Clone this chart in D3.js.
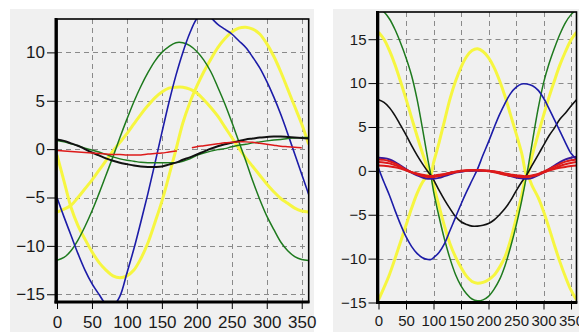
<!DOCTYPE html>
<html><head><meta charset="utf-8">
<script src="https://cdn.jsdelivr.net/npm/d3@7/dist/d3.min.js"></script>
<style>html,body{margin:0;padding:0;background:#fff;} svg{display:block;}</style>
</head><body>
<svg id="c" width="579" height="332"></svg>
<script>
// ---------- data: left chart ----------
const xsL = [0,10,20,30,40,50,60,70,80,90,100,110,120,130,140,150,160,170,180,190,200,210,220,230,240,250,260,270,280,290,300,310,320,330,340,350,360];
const blueL   = [-5.0,-7.0,-8.9,-10.8,-12.5,-13.9,-15.0,-16.0,-16.2,-15.2,-12.8,-10.3,-7.5,-4.6,-1.5,1.7,4.8,7.6,10.0,12.0,13.5,14.2,13.6,12.9,12.4,11.9,11.2,10.5,9.5,8.4,7.0,5.4,3.6,1.6,-0.5,-2.6,-4.7];
const greenL  = [-11.5,-11.2,-10.5,-9.4,-8.0,-6.4,-4.6,-2.7,-0.8,1.2,3.1,4.9,6.5,7.9,9.1,10.0,10.6,11.0,11.0,10.7,10.1,9.2,8.0,6.4,4.7,2.8,0.8,-1.2,-3.3,-5.2,-6.9,-8.3,-9.6,-10.5,-11.1,-11.4,-11.5];
const yellowAL= [-0.6,-3.3,-6.0,-7.9,-9.3,-10.6,-11.7,-12.5,-13.1,-13.3,-13.1,-12.5,-11.3,-9.7,-7.6,-5.4,-2.8,-0.1,2.7,4.8,6.5,8.0,9.3,10.5,11.4,12.1,12.5,12.6,12.4,11.9,10.9,9.6,8.0,6.2,4.4,2.6,0.5];
const yellowBL= [-6.5,-6.2,-5.8,-5.0,-4.1,-3.2,-2.2,-1.2,-0.2,0.7,1.6,2.6,3.6,4.5,5.3,5.9,6.3,6.4,6.4,6.2,5.8,5.1,4.3,3.4,2.3,1.2,0.1,-0.9,-1.8,-2.7,-3.6,-4.4,-5.1,-5.6,-6.1,-6.4,-6.5];
const blackL  = [1.0,0.85,0.6,0.35,0.0,-0.35,-0.65,-0.95,-1.2,-1.4,-1.55,-1.7,-1.8,-1.85,-1.85,-1.8,-1.6,-1.4,-1.1,-0.85,-0.55,-0.25,0.05,0.3,0.5,0.65,0.85,1.0,1.1,1.2,1.25,1.3,1.3,1.25,1.2,1.15,1.1];
const green2L = [0.9,0.75,0.55,0.35,0.1,-0.1,-0.3,-0.55,-0.8,-1.0,-1.15,-1.25,-1.35,-1.4,-1.4,-1.4,-1.4,-1.4,-1.25,-1.0,-0.65,-0.4,-0.2,-0.05,0.05,0.25,0.4,0.5,0.65,0.75,0.85,0.95,1.0,1.1,1.15,1.2,1.2];
const redL    = [-0.15,-0.2,-0.25,-0.3,-0.35,-0.4,-0.45,-0.5,-0.55,-0.55,-0.6,-0.6,-0.6,-0.5,-0.45,-0.4,-0.3,-0.2,-0.1,0.1,0.25,0.35,0.45,0.55,0.65,0.7,0.75,0.75,0.7,0.6,0.5,0.4,0.3,0.25,0.2,0.15];
const xTicks = [0,50,100,150,200,250,300,350];
const yTicksL = [10,5,0,-5,-10,-15];

// ---------- data: right chart ----------
const xsR = [0,10,20,30,40,50,60,70,80,90,95,100,110,120,130,140,150,160,170,180,190,200,210,220,230,240,250,260,270,280,290,300,310,320,330,340,350,360];
const greenR  = [18.5,18.1,17.3,16.1,14.6,12.9,10.9,8.2,4.8,1.2,-0.4,-2.3,-5.2,-7.8,-10.0,-11.8,-13.1,-14.0,-14.6,-14.8,-14.7,-14.3,-13.5,-12.4,-10.8,-8.7,-6.3,-3.5,-0.3,3.4,7.0,10.0,12.2,14.0,15.6,16.9,17.8,18.4];
const yellowAR= [15.8,15.0,13.7,12.1,10.2,8.2,6.1,4.0,2.0,0.2,-0.5,0.9,3.2,5.7,8.2,10.2,11.8,13.0,13.7,13.9,13.6,12.9,11.8,10.3,8.5,6.4,4.3,2.1,-0.5,1.9,4.1,6.3,8.4,10.3,12.1,13.6,14.9,15.8];
const yellowBR= [-14.7,-13.3,-11.8,-10.0,-8.1,-6.2,-4.3,-2.6,-1.3,-0.5,-0.4,-1.6,-4.0,-6.3,-8.3,-9.8,-11.0,-12.0,-12.6,-12.8,-12.7,-12.4,-11.9,-11.0,-9.8,-7.9,-5.5,-2.9,-0.5,-1.8,-3.0,-4.6,-6.5,-8.5,-10.4,-12.1,-13.6,-14.7];
const blackR  = [8.1,7.8,7.2,6.3,5.2,4.1,2.9,1.8,0.8,-0.1,-0.5,-1.0,-2.2,-3.3,-4.3,-5.2,-5.8,-6.1,-6.3,-6.3,-6.2,-6.0,-5.6,-5.0,-4.3,-3.4,-2.3,-1.3,-0.4,0.7,1.8,2.9,4.0,4.9,5.9,6.6,7.4,8.1];
const blueR   = [0.3,-1.3,-2.8,-4.5,-6.1,-7.5,-8.6,-9.4,-9.9,-10.1,-10.1,-9.9,-9.3,-8.3,-6.8,-5.3,-3.8,-2.4,-1.1,0.2,1.8,3.3,4.9,6.4,7.7,8.8,9.5,9.9,9.9,9.7,9.2,8.3,7.1,5.8,4.5,3.2,2.0,1.3];
const blue2R  = [1.5,1.45,1.3,1.0,0.6,0.2,-0.2,-0.5,-0.75,-0.9,-0.9,-0.9,-0.8,-0.6,-0.4,-0.2,-0.1,0.0,0.0,0.0,0.0,0.0,-0.1,-0.2,-0.4,-0.6,-0.75,-0.85,-0.9,-0.8,-0.5,-0.2,0.2,0.6,1.0,1.3,1.5,1.6];
const red1R   = [1.3,1.25,1.1,0.85,0.5,0.15,-0.15,-0.4,-0.6,-0.7,-0.7,-0.7,-0.6,-0.45,-0.3,-0.15,-0.05,0.05,0.1,0.1,0.05,-0.05,-0.15,-0.3,-0.45,-0.55,-0.65,-0.7,-0.7,-0.6,-0.4,-0.1,0.2,0.5,0.8,1.05,1.2,1.3];
const red2R   = [1.0,0.95,0.85,0.65,0.4,0.1,-0.15,-0.35,-0.55,-0.65,-0.7,-0.65,-0.55,-0.4,-0.25,-0.1,0.0,0.05,0.1,0.1,0.05,0.0,-0.1,-0.25,-0.4,-0.5,-0.6,-0.65,-0.7,-0.6,-0.45,-0.2,0.05,0.3,0.55,0.75,0.9,1.0];
const red3R   = [0.6,0.58,0.5,0.4,0.25,0.05,-0.15,-0.3,-0.45,-0.55,-0.6,-0.55,-0.45,-0.35,-0.2,-0.1,0.0,0.05,0.05,0.05,0.05,0.0,-0.05,-0.15,-0.3,-0.4,-0.5,-0.55,-0.6,-0.5,-0.35,-0.15,0.05,0.2,0.35,0.45,0.55,0.6];
const yTicksR = [15,10,5,0,-5,-10,-15];

const C = {blue:"#1c1ca8", green:"#1e7a1e", yellow:"#f6f640", black:"#111", red:"#dd1a1a"};

const svg = d3.select("#c");
const FONT = "'Liberation Sans', Arial, sans-serif";

function chart(o){
  const g = svg.append("g");
  g.append("rect").attr("x",o.panel[0]).attr("y",o.panel[1]).attr("width",o.panel[2]).attr("height",o.panel[3]).attr("fill","#f0f0f0");
  const x = d3.scaleLinear().domain([0,360]).range(o.xr);
  const y = d3.scaleLinear().domain(o.yd).range(o.yr);
  const [x0,x1] = o.xr, [y1,y0] = o.yr;
  const id = "clip"+o.name;
  svg.append("clipPath").attr("id",id).append("rect").attr("x",x0).attr("y",y0).attr("width",x1-x0).attr("height",y1-y0);
  // grid
  const grid = g.append("g").attr("stroke","#8a8a8a").attr("stroke-width",1).attr("stroke-dasharray","5,4");
  grid.selectAll(".vg").data(xTicks.filter(d=>d>0)).join("line")
    .attr("x1",d=>Math.round(x(d))+0.5).attr("x2",d=>Math.round(x(d))+0.5).attr("y1",y0).attr("y2",y1);
  grid.selectAll(".hg").data(o.yticks.filter(d=>y(d)<y1-3)).join("line")
    .attr("y1",d=>Math.round(y(d))+0.5).attr("y2",d=>Math.round(y(d))+0.5).attr("x1",x0).attr("x2",x1);
  // series
  const sg = g.append("g").attr("clip-path",`url(#${id})`).attr("fill","none").attr("stroke-linejoin","round");
  o.series.forEach(s=>{
    const line = d3.line().x((d,i)=>x(o.xs[i])).y(d=>y(d)).curve(d3.curveCatmullRom.alpha(0.5));
    const p = sg.append("path").attr("d",line(s.v)).attr("stroke",s.c).attr("stroke-width",s.w);
    if(s.dash) p.attr("stroke-dasharray",s.dash(x));
  });
  // frame
  g.append("rect").attr("x",x0).attr("y",y0).attr("width",x1-x0).attr("height",y1-y0).attr("fill","none").attr("stroke","#000").attr("stroke-width",1.6);
  g.append("line").attr("x1",x0-1).attr("x2",x0-1).attr("y1",y0-1).attr("y2",y1+1.5).attr("stroke","#000").attr("stroke-width",3);
  g.append("line").attr("x1",x0-2.5).attr("x2",x1+0.8).attr("y1",y1).attr("y2",y1).attr("stroke","#000").attr("stroke-width",3);
  // axes
  const minorX = xTicks.flatMap(t=>[10,20,30,40].map(k=>t+k)).filter(d=>d<360);
  const ax = g.append("g").attr("transform",`translate(0,${y1+1})`);
  ax.call(d3.axisBottom(x).tickValues(minorX).tickSize(4).tickFormat(""));
  ax.call(d3.axisBottom(x).tickValues(xTicks).tickSize(6).tickPadding(o.xpad).tickFormat(d3.format("d")));
  const ay = g.append("g").attr("transform",`translate(${x0-2},0)`);
  const minorY = o.yticks.flatMap(t=>[1.25,2.5,3.75].map(k=>t+k)).filter(d=>d<o.yd[1]);
  ay.call(d3.axisLeft(y).tickValues(minorY).tickSize(3).tickFormat(""));
  ay.call(d3.axisLeft(y).tickValues(o.yticks).tickSize(8).tickPadding(2).tickFormat(d3.format("d")));
  [ax,ay].forEach(a=>{
    a.selectAll(".domain").remove();
    a.selectAll("line").attr("stroke","#000");
    a.selectAll("text").attr("fill","#1a1a1a").style("font-family",FONT).style("font-size",o.fs+"px");
  });
}

chart({name:"L", panel:[10,9,304,323], xr:[57,308.7], yd:[-15.8,13.45], yr:[302,19], xs:xsL, yticks:yTicksL, fs:17, xpad:7,
  series:[
    {v:yellowBL,c:C.yellow,w:3},
    {v:yellowAL,c:C.yellow,w:3},
    {v:greenL,c:C.green,w:1.5},
    {v:blueL,c:C.blue,w:1.6},
    {v:green2L,c:C.green,w:1.4},
    {v:blackL,c:C.black,w:2},
    {v:redL,c:C.red,w:1.5, dash:x=>`${x(172)-x(0)},${x(194)-x(172)},1000`}
  ]});

chart({name:"R", panel:[333,9,246,323], xr:[378.5,576.5], yd:[-15,18.1], yr:[302.5,12], xs:xsR, yticks:yTicksR, fs:15, xpad:6,
  series:[
    {v:yellowBR,c:C.yellow,w:3},
    {v:yellowAR,c:C.yellow,w:3},
    {v:greenR,c:C.green,w:1.5},
    {v:blackR,c:C.black,w:1.6},
    {v:blueR,c:C.blue,w:1.6},
    {v:blue2R,c:"#3a1a9a",w:2},
    {v:red1R,c:C.red,w:2},
    {v:red2R,c:C.red,w:2},
    {v:red3R,c:C.red,w:2}
  ]});
</script>
</body></html>
